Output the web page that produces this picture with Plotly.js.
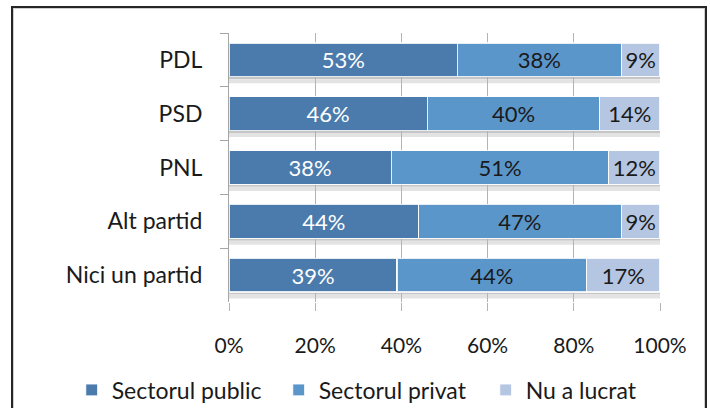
<!DOCTYPE html>
<html>
<head>
<meta charset="utf-8">
<script src="https://cdn.plot.ly/plotly-3.0.1.min.js"></script>
<style>
  body { margin: 0; background: #fff; }
  #wrap { position: relative; width: 710px; height: 408px; overflow: hidden; }
  #frame {
    position: absolute; left: 11px; top: 6px; width: 692px; height: 430px;
    border: 2px solid #262626; box-shadow: inset 0 0 0 1px #d0d0d0;
    pointer-events: none;
  }
</style>
</head>
<body>
<div id="wrap">
  <div id="chart" style="width:710px;height:408px;"></div>
  <div id="frame"></div>
</div>
<script>
// categories, top to bottom
const parties = ['PDL', 'PSD', 'PNL', 'Alt partid', 'Nici un partid'];

// share of respondents per sector (%)
const sectorPublic = [53, 46, 38, 44, 39];
const sectorPrivat = [38, 40, 51, 47, 44];
const nuALucrat = [9, 14, 12, 9, 17];

const seriesNames = ['Sectorul public', 'Sectorul privat', 'Nu a lucrat'];
const xTicks = [0, 20, 40, 60, 80, 100];

const COLORS = ['#4a7bac', '#5b96cb', '#b4c6e2'];
const TEXT_COLORS = ['#ffffff', '#1a1a1a', '#1a1a1a'];
const FONT = 'Lato, "Open Sans", sans-serif';
const BAR_WIDTH = 0.63;

function sectorTrace(values, i) {
    return {
        type: 'bar',
        orientation: 'h',
        name: seriesNames[i],
        y: parties,
        x: values,
        width: BAR_WIDTH,
        text: values.map(v => v + '%'),
        textposition: 'inside',
        insidetextanchor: 'middle',
        constraintext: 'none',
        textfont: { family: FONT, size: 22, color: TEXT_COLORS[i] },
        marker: { color: COLORS[i], line: { color: 'rgba(255,255,255,0.85)', width: 1.2 } },
        hoverinfo: 'skip',
    };
}

const traces = [
    sectorTrace(sectorPublic, 0),
    sectorTrace(sectorPrivat, 1),
    sectorTrace(nuALucrat, 2),
];

// the 3D floor shading right under each bar (category index positions)
const shadows = [];
parties.forEach((p, i) => {
    shadows.push({
        type: 'rect', xref: 'x', yref: 'y', layer: 'below',
        x0: 0, x1: 100, y0: i + BAR_WIDTH / 2, y1: i + BAR_WIDTH / 2 + 0.045,
        fillcolor: '#c6c6c6', line: { width: 0 },
    });
    shadows.push({
        type: 'rect', xref: 'x', yref: 'y', layer: 'below',
        x0: 0, x1: 100, y0: i + BAR_WIDTH / 2 + 0.045, y1: i + BAR_WIDTH / 2 + 0.12,
        fillcolor: '#e3e3e3', line: { width: 0 },
    });
});

const layout = {
    width: 710,
    height: 408,
    margin: { l: 228.5, r: 50, t: 33, b: 106, autoexpand: false },
    paper_bgcolor: '#ffffff',
    plot_bgcolor: '#ffffff',
    barmode: 'stack',
    barnorm: 'percent',
    showlegend: true,
    font: { family: FONT, size: 21, color: '#1a1a1a' },
    shapes: shadows,
    xaxis: {
        range: [0, 100],
        tickvals: xTicks,
        ticktext: xTicks.map(v => v + '%'),
        showgrid: true,
        gridcolor: '#b3b3b3',
        gridwidth: 1,
        zeroline: false,
        showline: false,
        ticks: 'outside',
        ticklen: 8,
        tickcolor: '#b3b3b3',
        ticklabelstandoff: 17,
        tickfont: { family: FONT, size: 21, color: '#1a1a1a' },
        automargin: false,
        fixedrange: true,
    },
    yaxis: {
        type: 'category',
        range: [4.5, -0.5],
        showline: true,
        linecolor: '#a6a6a6',
        linewidth: 1,
        ticks: 'outside',
        tickson: 'boundaries',
        ticklen: 8,
        tickcolor: '#a6a6a6',
        ticklabelstandoff: 21,
        showgrid: false,
        tickfont: { family: FONT, size: 23, color: '#1a1a1a' },
        automargin: false,
        fixedrange: true,
    },
    legend: {
        orientation: 'h',
        x: -0.365,
        xanchor: 'left',
        y: -0.327,
        yanchor: 'middle',
        entrywidth: 162,
        entrywidthmode: 'pixels',
        traceorder: 'normal',
        font: { family: FONT, size: 23, color: '#1a1a1a' },
        bgcolor: 'rgba(0,0,0,0)',
    },
};

Plotly.newPlot('chart', traces, layout, { displayModeBar: false, staticPlot: true });
</script>
</body>
</html>
